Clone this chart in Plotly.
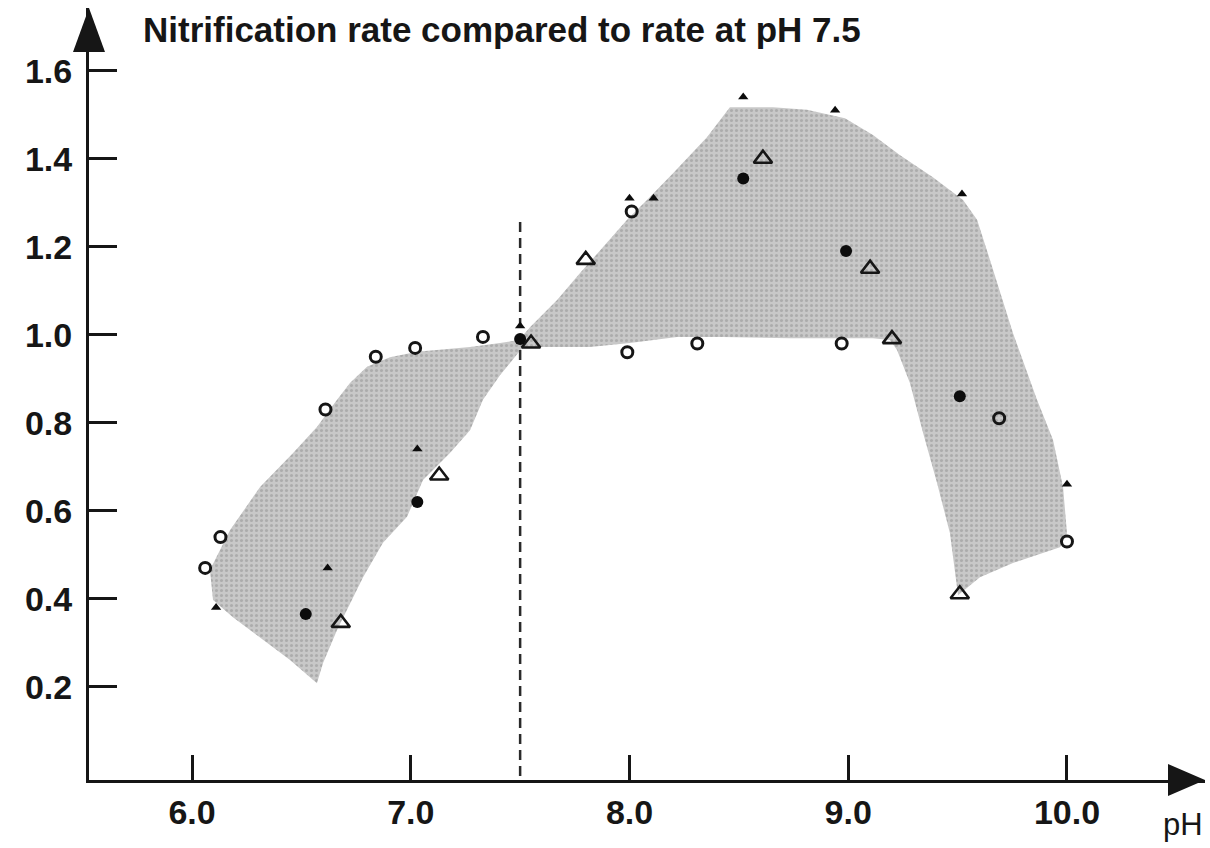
import plotly.graph_objects as go

# ---- data ----
envelope_ph = [6.096, 6.082, 6.174, 6.311, 6.462, 6.571, 6.663, 6.722, 6.800, 6.905, 7.029, 7.271,
               7.408, 7.495, 7.545, 7.669, 7.774, 7.897, 7.989, 8.080, 8.199, 8.354, 8.459, 8.656,
               8.811, 8.985, 9.113, 9.237, 9.387, 9.525, 9.589, 9.648, 9.707, 9.753, 9.863, 9.936,
               9.982, 10.000, 9.968, 9.753, 9.602, 9.502, 9.465, 9.406, 9.342, 9.282, 9.223, 9.191,
               9.113, 8.734, 8.427, 8.217, 8.002, 7.819, 7.513, 7.495, 7.408, 7.330, 7.271, 7.179,
               7.056, 6.983, 6.873, 6.782, 6.663, 6.599, 6.571, 6.448, 6.311, 6.187]
envelope_rate = [0.397, 0.465, 0.556, 0.654, 0.731, 0.790, 0.852, 0.890, 0.927, 0.949, 0.961, 0.972,
                 0.981, 0.988, 1.017, 1.079, 1.140, 1.208, 1.261, 1.306, 1.367, 1.449, 1.517, 1.517,
                 1.511, 1.492, 1.454, 1.408, 1.358, 1.306, 1.261, 1.170, 1.079, 1.004, 0.852, 0.761,
                 0.654, 0.549, 0.517, 0.481, 0.449, 0.408, 0.549, 0.663, 0.777, 0.890, 0.965, 0.988,
                 0.992, 0.992, 0.995, 0.995, 0.981, 0.972, 0.972, 0.961, 0.908, 0.852, 0.783, 0.731,
                 0.670, 0.586, 0.527, 0.449, 0.329, 0.254, 0.208, 0.261, 0.313, 0.358]

open_circle_ph = [6.06, 6.13, 6.61, 6.84, 7.02, 7.33, 7.99, 8.01, 8.31, 8.97, 9.69, 10.0]
open_circle_rate = [0.47, 0.54, 0.83, 0.95, 0.97, 0.995, 0.96, 1.28, 0.98, 0.98, 0.81, 0.53]

filled_tri_ph = [6.11, 6.62, 7.03, 7.50, 8.00, 8.11, 8.52, 8.94, 9.52, 10.0]
filled_tri_rate = [0.38, 0.47, 0.74, 1.02, 1.31, 1.31, 1.54, 1.51, 1.32, 0.66]

filled_circle_ph = [6.52, 7.03, 7.50, 8.52, 8.99, 9.51]
filled_circle_rate = [0.365, 0.62, 0.99, 1.355, 1.19, 0.86]

open_tri_ph = [6.68, 7.13, 7.55, 7.80, 8.61, 9.10, 9.20, 9.51]
open_tri_rate = [0.345, 0.68, 0.98, 1.17, 1.40, 1.15, 0.99, 0.41]

ref_ph = [7.5, 7.5]
ref_rate = [1.256, -0.012]

x_ticks = [6.0, 7.0, 8.0, 9.0, 10.0]
x_tick_labels = ["6.0", "7.0", "8.0", "9.0", "10.0"]
y_ticks = [0.2, 0.4, 0.6, 0.8, 1.0, 1.2, 1.4, 1.6]
y_tick_labels = ["0.2", "0.4", "0.6", "0.8", "1.0", "1.2", "1.4", "1.6"]

title_text = "Nitrification rate compared to rate at pH 7.5"
x_label = "pH"

FONT = "Liberation Sans, Arial, sans-serif"
INK = "#161616"

fig = go.Figure()

fig.add_trace(go.Scatter(
    x=envelope_ph, y=envelope_rate, mode="lines", fill="toself",
    fillcolor="#c4c4c4", line=dict(width=0, color="rgba(0,0,0,0)"),
    fillpattern=dict(shape=".", fgcolor="#8f8f8f", bgcolor="#c8c8c8", size=5, solidity=0.3),
    hoverinfo="skip", showlegend=False))

fig.add_trace(go.Scatter(
    x=ref_ph, y=ref_rate, mode="lines",
    line=dict(color="#2a2a2a", width=2.5, dash="10px,6px"), showlegend=False))

fig.add_trace(go.Scatter(
    x=open_circle_ph, y=open_circle_rate, mode="markers",
    marker=dict(symbol="circle-open", size=11, color=INK, line=dict(width=3, color=INK)),
    showlegend=False))

fig.add_trace(go.Scatter(
    x=open_tri_ph, y=open_tri_rate, mode="markers",
    marker=dict(symbol="triangle-up-open", size=16, color=INK, line=dict(width=2.6, color=INK)),
    showlegend=False))

fig.add_trace(go.Scatter(
    x=filled_circle_ph, y=filled_circle_rate, mode="markers",
    marker=dict(symbol="circle", size=12, color="#0c0c0c", line=dict(width=0)),
    showlegend=False))

fig.add_trace(go.Scatter(
    x=filled_tri_ph, y=filled_tri_rate, mode="markers",
    marker=dict(symbol="triangle-up", size=9, color="#0c0c0c", line=dict(width=0)),
    showlegend=False))

L, R, T, B = 89, 5, 8, 68
W, H = 1210, 848
pw, ph = W - L - R, H - T - B

fig.update_layout(
    width=W, height=H,
    margin=dict(l=L, r=R, t=T, b=B, pad=0),
    paper_bgcolor="white", plot_bgcolor="white",
    showlegend=False,
    font=dict(family=FONT, color=INK),
    xaxis=dict(
        range=[5.529, 10.631], showgrid=False, zeroline=False,
        showline=True, linecolor=INK, linewidth=3,
        ticks="inside", ticklen=25, tickwidth=2.5, tickcolor=INK,
        tickvals=x_ticks, ticktext=x_tick_labels,
        tickfont=dict(family=FONT, size=34, color=INK, weight="bold"),
        ticklabelstandoff=0,
    ),
    yaxis=dict(
        range=[-0.012, 1.7425], showgrid=False, zeroline=False,
        showline=True, linecolor=INK, linewidth=3,
        ticks="inside", ticklen=28, tickwidth=2.5, tickcolor=INK,
        tickvals=y_ticks, ticktext=y_tick_labels,
        tickfont=dict(family=FONT, size=34, color=INK, weight="bold"),
        ticklabelstandoff=7,
    ),
)

# title at top of the y axis
fig.add_annotation(
    text="<b>" + title_text + "</b>", xref="paper", yref="paper",
    x=(141 - L) / pw, y=(H - B - 30) / ph, xanchor="left", yanchor="middle",
    showarrow=False, font=dict(family=FONT, size=35, color=INK))

# x axis label
fig.add_annotation(
    text=x_label, xref="paper", yref="paper",
    x=(1183 - L) / pw, y=(H - B - 824) / ph, xanchor="center", yanchor="middle",
    showarrow=False, font=dict(family=FONT, size=31, color=INK))

# arrowheads on axes
hw_y = 16 / pw
base_y = (H - B - 52) / ph
fig.add_shape(type="path", xref="paper", yref="paper",
              path=f"M {-hw_y} {base_y} L 0 1 L {hw_y} {base_y} Z",
              fillcolor=INK, line=dict(width=0))
base_x = (1168 - L) / pw
hh_x = 16 / ph
fig.add_shape(type="path", xref="paper", yref="paper",
              path=f"M {base_x} {hh_x} L 1 0 L {base_x} {-hh_x} Z",
              fillcolor=INK, line=dict(width=0))

fig.write_html("out.html", config={"displayModeBar": False},
               post_script="document.body.style.margin='0';document.body.style.overflow='hidden';")
